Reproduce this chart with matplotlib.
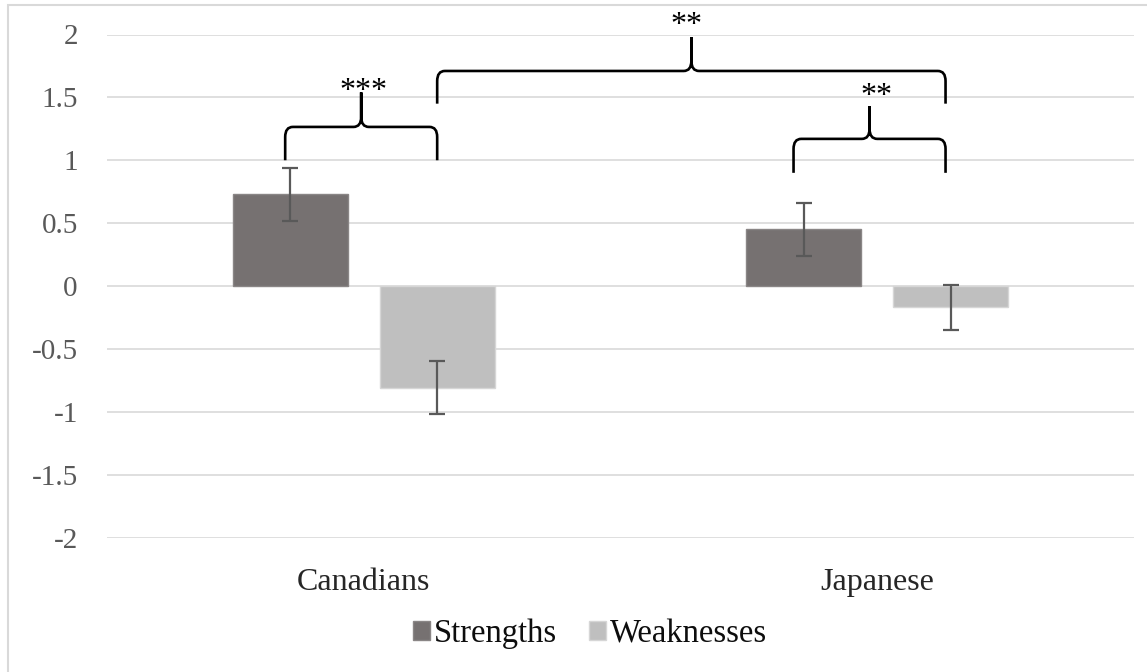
import matplotlib.pyplot as plt
from matplotlib.path import Path
from matplotlib.patches import PathPatch, Rectangle
import numpy as np

plt.rcParams['font.family'] = ['Liberation Serif', 'DejaVu Serif']

# Mean scores with error bars
groups = ['Canadians', 'Japanese']
strengths = [0.73, 0.45]
weaknesses = [-0.81, -0.17]
strengths_err = [0.21, 0.21]
weaknesses_err = [0.21, 0.18]

x = np.arange(len(groups))
width = 0.224
offset = 0.143

fig = plt.figure(figsize=(11.47, 6.72), dpi=100)
ax = fig.add_axes([107 / 1147, 1 - 537.5 / 672, 1027 / 1147, 503 / 672])

err_kw = dict(ecolor='#595959', elinewidth=1.6, capsize=6, capthick=1.6)
ax.bar(x - offset, strengths, width, yerr=strengths_err, color='#767171',
       edgecolor='#8a8686', linewidth=1, label='Strengths', error_kw=err_kw, zorder=3)
ax.bar(x + offset, weaknesses, width, yerr=weaknesses_err, color='#bfbfbf',
       edgecolor='#d6d6d6', linewidth=1, label='Weaknesses', error_kw=err_kw, zorder=3)

ax.set_xlim(-0.5, 1.5)
ax.set_ylim(-2, 2)
ax.set_yticks(np.arange(-2, 2.01, 0.5))
ax.set_yticklabels(['-2', '-1.5', '-1', '-0.5', '0', '0.5', '1', '1.5', '2'])
ax.set_xticks(x)
ax.set_xticklabels(groups)
ax.grid(axis='y', color='#d9d9d9', linewidth=1.2, zorder=0)
for s in ax.spines.values():
    s.set_visible(False)
ax.tick_params(axis='y', length=0, pad=21, labelsize=21, labelcolor='#595959')
ax.tick_params(axis='x', length=0, pad=22, labelsize=23, labelcolor='#262626')


def brace(ax, x0, x1, yb, yh, yt, rx=0.015, ry=0.08):
    xc = (x0 + x1) / 2
    verts = [(x0, yb), (x0, yh - ry), (x0, yh), (x0 + rx, yh),
             (xc - rx, yh), (xc, yh), (xc, yh + ry), (xc, yt),
             (xc, yh + ry), (xc, yh), (xc + rx, yh),
             (x1 - rx, yh), (x1, yh), (x1, yh - ry), (x1, yb)]
    codes = [Path.MOVETO, Path.LINETO, Path.CURVE3, Path.CURVE3,
             Path.LINETO, Path.CURVE3, Path.CURVE3, Path.LINETO,
             Path.LINETO, Path.CURVE3, Path.CURVE3,
             Path.LINETO, Path.CURVE3, Path.CURVE3, Path.LINETO]
    ax.add_patch(PathPatch(Path(verts, codes), facecolor='none', edgecolor='black',
                           linewidth=1.9, clip_on=False, zorder=4))


# significance brackets
brace(ax, 0 - offset - 0.01, 0 + offset, 1.0, 1.265, 1.54)
brace(ax, 1 - offset - 0.02, 1 + offset - 0.01, 0.90, 1.17, 1.43)
brace(ax, 0 + offset, 1 + offset - 0.01, 1.45, 1.71, 1.98)

star_kw = dict(ha='center', va='baseline', fontsize=23, color='black', clip_on=False)
ax.text(0, 1.49, '***', **star_kw)
ax.text(1 - 0.001, 1.45, '**', **star_kw)
ax.text(0.628, 2.01, '**', **star_kw)

leg = fig.legend(loc='center', bbox_to_anchor=(590 / 1147, 1 - 634 / 672), ncol=2,
                 frameon=False, fontsize=23.5, handlelength=0.52, handleheight=0.52,
                 handletextpad=0.12, columnspacing=1.0)
for t in leg.get_texts():
    t.set_color('#0d0d0d')

# chart area border
fig.patches.append(Rectangle((8 / 1147, -0.1), 1.2, 1.1 - 4.5 / 672, transform=fig.transFigure,
                             facecolor='none', edgecolor='#d9d9d9', linewidth=1.5))

fig.savefig('out.png', dpi=100)
